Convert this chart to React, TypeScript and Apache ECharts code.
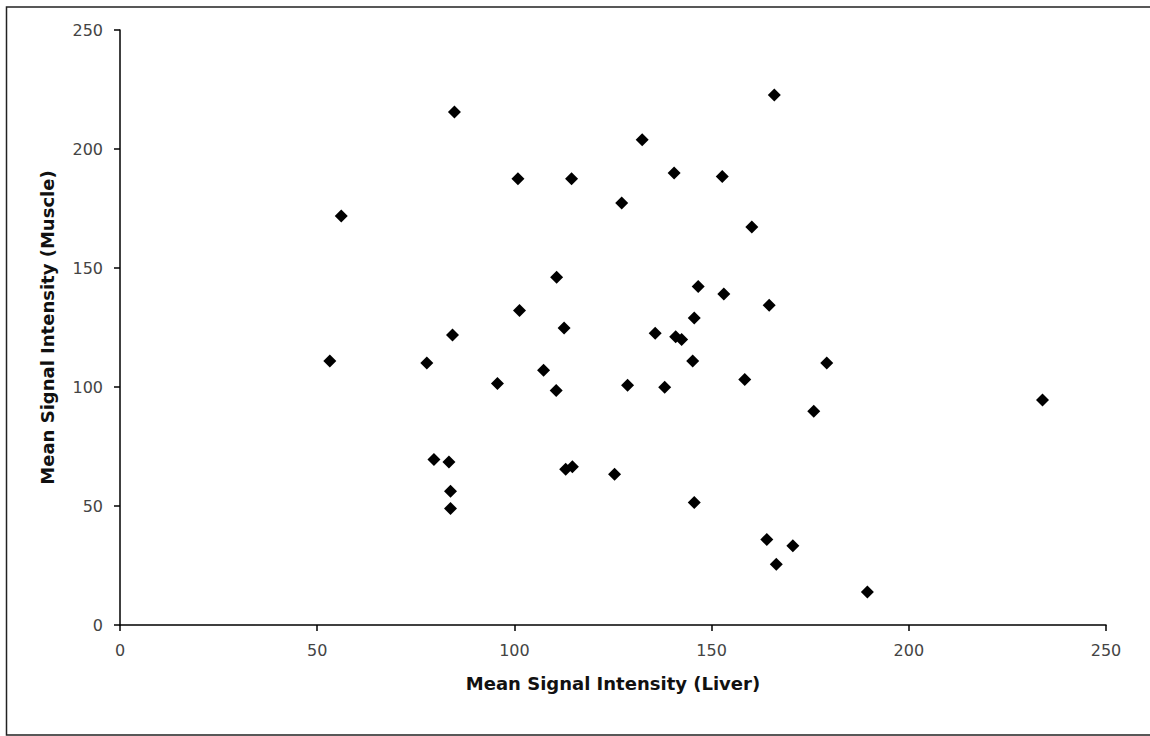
import React, { useEffect, useRef } from "react";
import * as echarts from "echarts";

const liver: number[] = [
  84.8, 165.9, 132.4, 100.9, 114.5, 140.5, 152.7, 56.1, 127.2, 160.2,
  110.7, 146.6, 153.1, 101.3, 164.6, 145.6, 84.3, 112.6, 135.7, 140.9,
  142.4, 145.2, 53.2, 77.8, 107.4, 95.7, 110.6, 128.7, 138.1, 158.4,
  79.6, 83.4, 83.8, 83.8, 113.0, 114.7, 125.4, 145.6, 164.0, 170.6,
  166.4, 179.2, 175.9, 233.9, 189.5,
];
const muscle: number[] = [
  215.5, 222.7, 203.9, 187.5, 187.5, 189.9, 188.4, 171.8, 177.3, 167.2,
  146.1, 142.2, 139.1, 132.1, 134.3, 129.0, 121.8, 124.8, 122.6, 121.1,
  120.0, 110.9, 110.9, 110.1, 107.0, 101.5, 98.5, 100.7, 99.9, 103.1,
  69.5, 68.5, 56.2, 49.0, 65.4, 66.5, 63.3, 51.5, 35.9, 33.3,
  25.5, 110.1, 89.8, 94.5, 13.9,
];
const xTitle = "Mean Signal Intensity (Liver)";
const yTitle = "Mean Signal Intensity (Muscle)";

export default function App() {
  const ref = useRef<HTMLDivElement>(null);
  useEffect(() => {
    if (!ref.current) return;
    const chart = echarts.init(ref.current, null, { renderer: "svg" });
    const font = "'DejaVu Sans', Verdana, sans-serif";
    chart.setOption({
      animation: false,
      backgroundColor: "#ffffff",
      grid: { left: 120, right: 44, top: 30, bottom: 111, containLabel: false },
      graphic: [
        {
          type: "rect",
          shape: { x: 6.5, y: 7, width: 1160, height: 728 },
          style: { fill: "none", stroke: "#222", lineWidth: 1.5 },
          silent: true,
          z: -1,
        },
      ],
      xAxis: {
        type: "value",
        min: 0,
        max: 250,
        interval: 50,
        name: xTitle,
        nameLocation: "middle",
        nameGap: 49,
        nameTextStyle: { fontFamily: font, fontWeight: "bold", fontSize: 18, color: "#111" },
        axisLine: { show: true, onZero: false, lineStyle: { color: "#000", width: 1.5 } },
        axisTick: { show: true, length: 6, inside: false, lineStyle: { color: "#000", width: 1.5 } },
        axisLabel: { fontFamily: font, fontSize: 16, color: "#444", margin: 17 },
        splitLine: { show: false },
      },
      yAxis: {
        type: "value",
        min: 0,
        max: 250,
        interval: 50,
        name: yTitle,
        nameLocation: "middle",
        nameGap: 64,
        nameTextStyle: { fontFamily: font, fontWeight: "bold", fontSize: 18, color: "#111" },
        axisLine: { show: true, onZero: false, lineStyle: { color: "#000", width: 1.5 } },
        axisTick: { show: true, length: 6, inside: false, lineStyle: { color: "#000", width: 1.5 } },
        axisLabel: { fontFamily: font, fontSize: 16, color: "#444", margin: 17 },
        splitLine: { show: false },
      },
      series: [
        {
          type: "scatter",
          symbol: "diamond",
          symbolSize: 13,
          itemStyle: { color: "#000", opacity: 1 },
          data: liver.map((x, i) => [x, muscle[i]]),
        },
      ],
    });
    return () => chart.dispose();
  }, []);
  return (
    <div
      ref={ref}
      style={{ position: "fixed", left: 0, top: 0, width: 1150, height: 736, background: "#fff" }}
    />
  );
}
